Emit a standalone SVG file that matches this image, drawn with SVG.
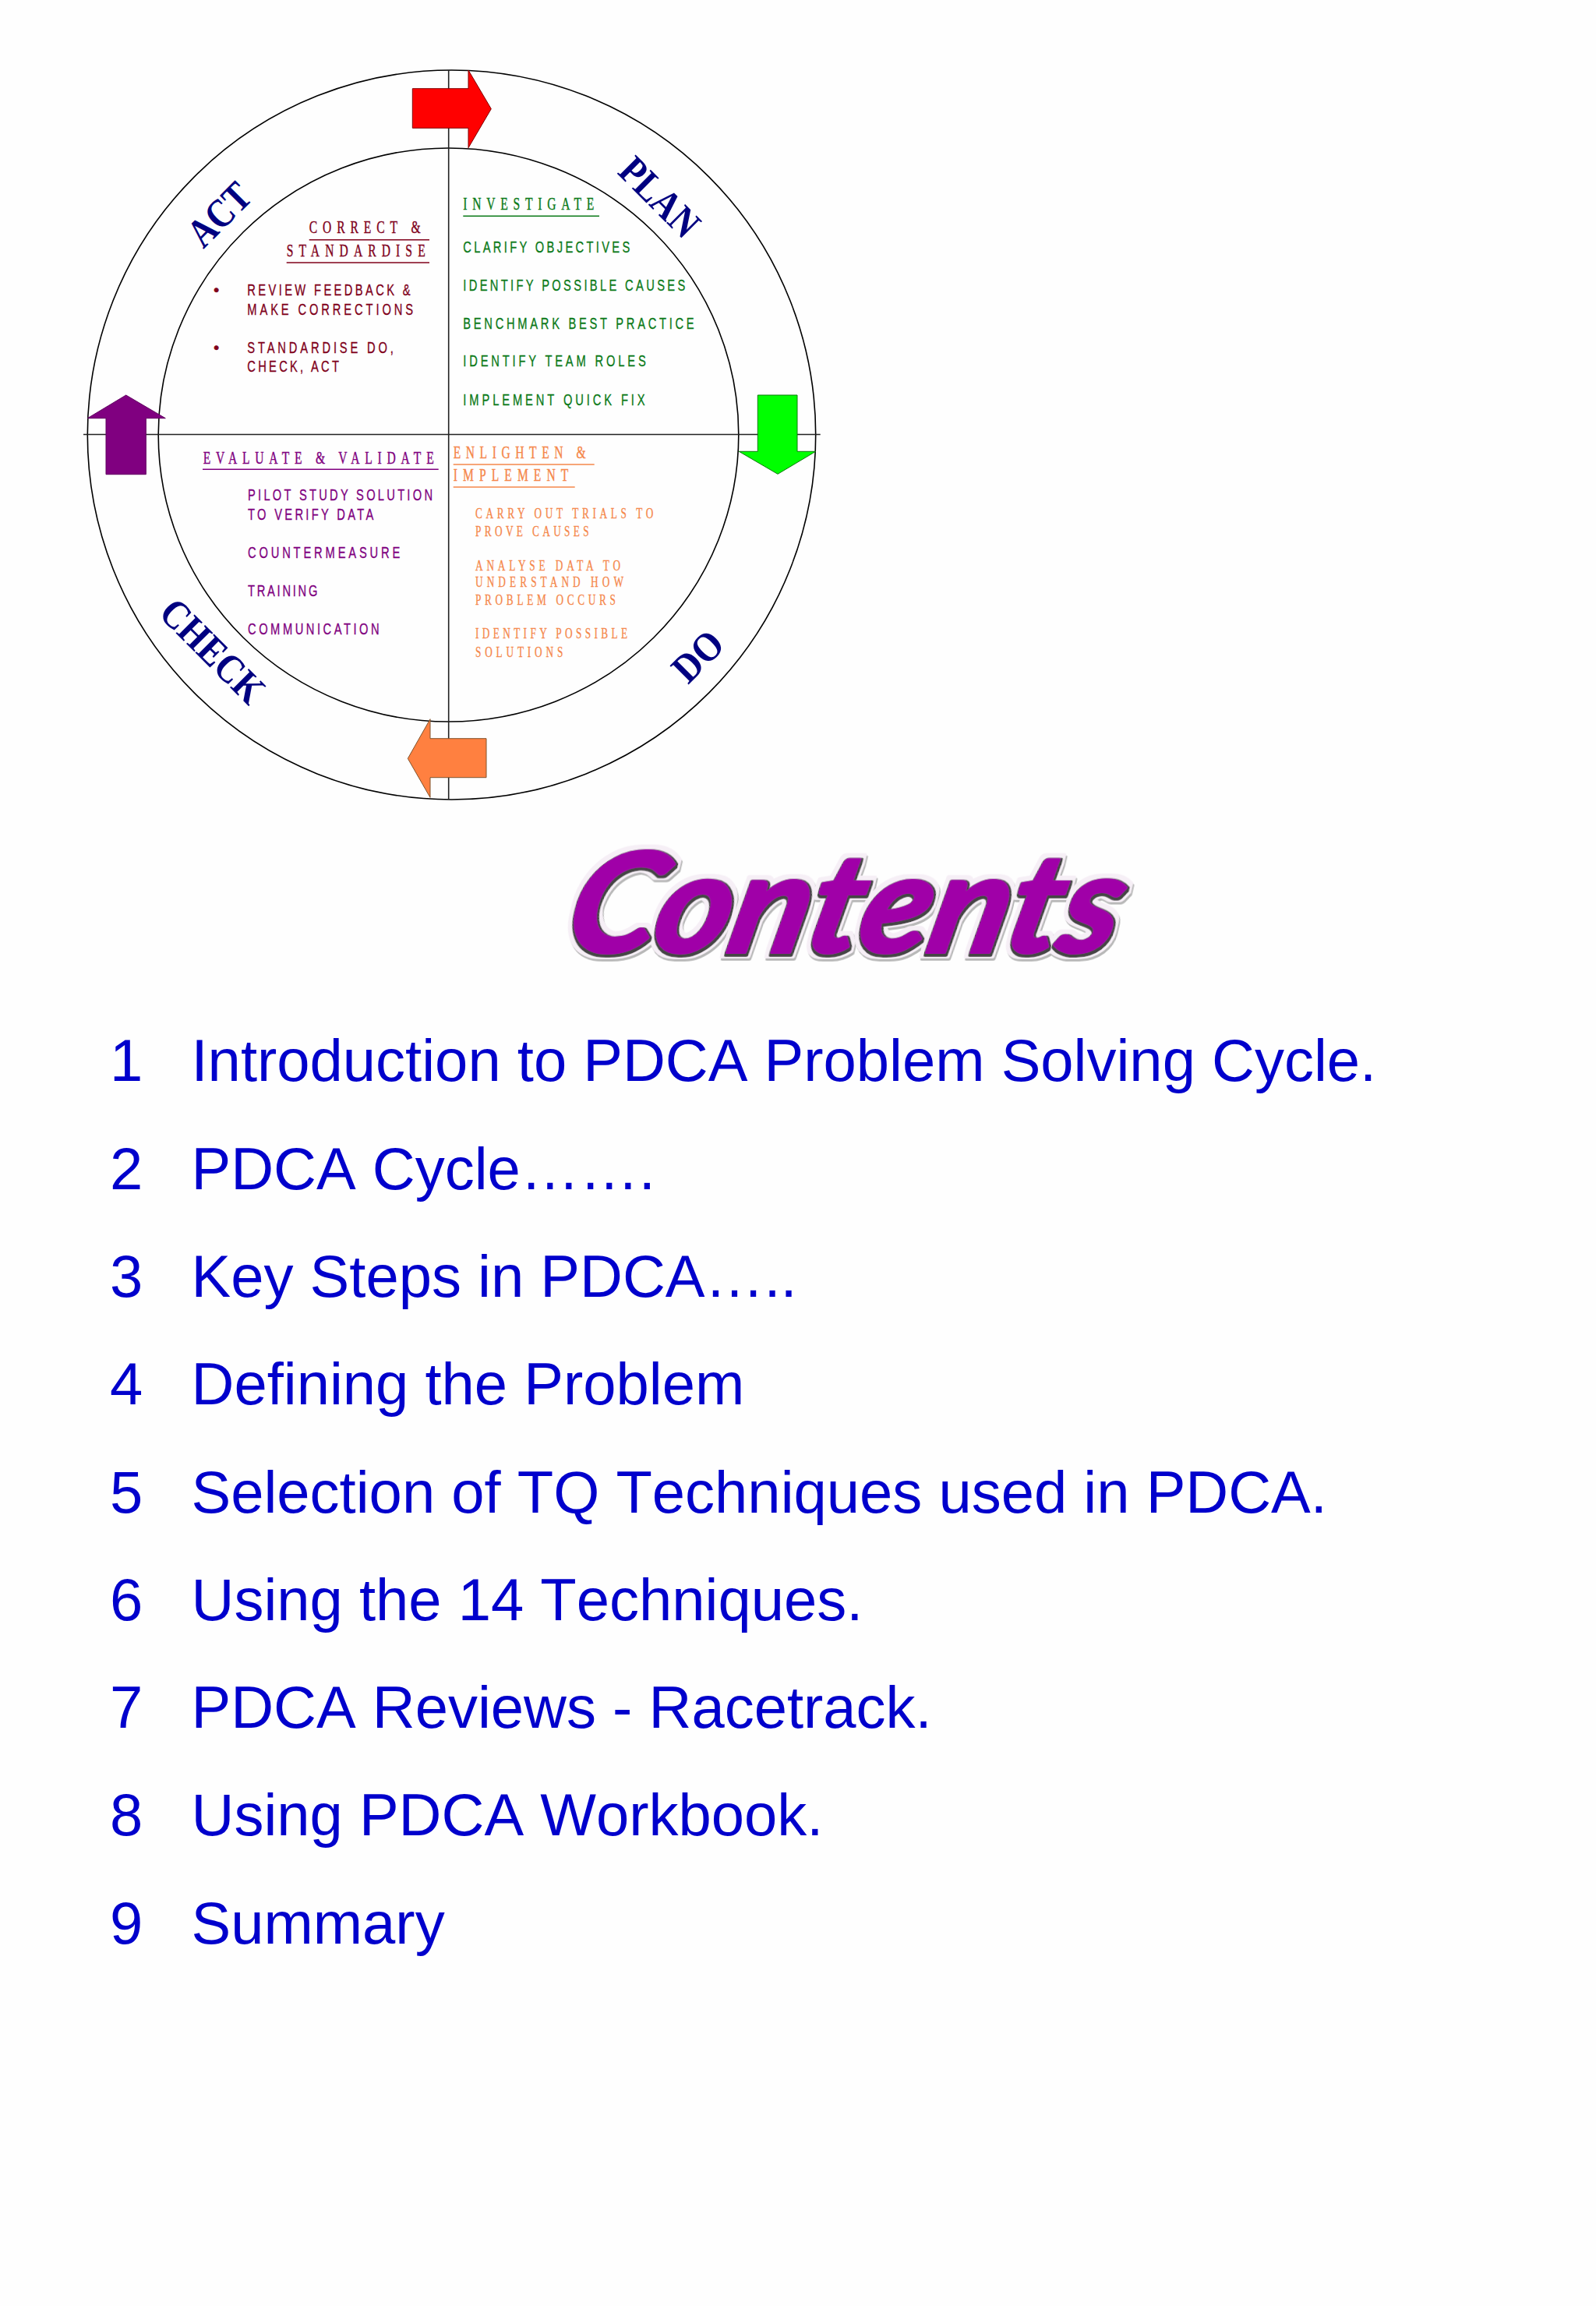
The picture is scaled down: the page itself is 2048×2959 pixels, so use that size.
<svg xmlns="http://www.w3.org/2000/svg" width="2048" height="2959" viewBox="0 0 2048 2959">
<defs>
<style>
.ring{fill:none;stroke:#000;stroke-width:1.6}
.axis{stroke:#222;stroke-width:1.6;fill:none}
.stage{font-family:"Liberation Serif",serif;font-weight:700;font-size:52px;fill:#000080}
.h{font-family:"Liberation Serif",serif;font-size:24px}
.b{font-family:"Liberation Sans",sans-serif;font-size:21px;stroke-width:.35px}
.o{font-family:"Liberation Serif",serif;font-size:19px}
.red{fill:#80001a;stroke:#80001a}.grn{fill:#0b7a18;stroke:#0b7a18}.pur{fill:#800080;stroke:#800080}.org{fill:#f5874a;stroke:#f5874a}
.h{stroke-width:.4px}.o{stroke-width:.3px}
.ul{stroke-width:1.6;fill:none}
.li{font-family:"Liberation Sans",sans-serif;font-size:76px;fill:#0000cc;font-kerning:none}
</style>
<filter id="halo" x="-5%" y="-10%" width="110%" height="125%">
<feMorphology in="SourceAlpha" operator="dilate" radius="6" result="d"/>
<feOffset in="d" dx="2" dy="3" result="s"/>
<feFlood flood-color="#b8b8b8"/><feComposite in2="s" operator="in" result="gray"/>
<feMorphology in="SourceAlpha" operator="dilate" radius="2" result="d2"/>
<feOffset in="d2" dx="1" dy="2" result="s2"/>
<feFlood flood-color="#444"/><feComposite in2="s2" operator="in" result="dark"/>
<feFlood flood-color="#f6eff6"/><feComposite in2="d" operator="in" result="white"/>
<feMerge><feMergeNode in="gray"/><feMergeNode in="white"/><feMergeNode in="dark"/><feMergeNode in="SourceGraphic"/></feMerge>
</filter>
</defs>
<rect width="2048" height="2959" fill="#fefefe"/>
<g id="connectors">
<ellipse class="ring" cx="579.5" cy="558" rx="467.2" ry="468"/>
<ellipse class="ring" cx="575.5" cy="558" rx="372.3" ry="368"/>
<path class="axis" d="M575.7 90V1026M107 557.5H1052.7"/>
</g>
<g id="arrow-plan"><path d="M529.3 113.7H601V90L630.3 139.7L601 189.7V164.3H529.3Z" fill="#ff0000" stroke="#800000" stroke-width="1"/></g>
<g id="arrow-do"><path d="M972.3 507H1023V579.3H1046.7L998 608.3L948.3 579.3H972.3Z" fill="#00ff00" stroke="#0a7a0a" stroke-width="1"/></g>
<g id="arrow-check"><path d="M624 947.7H552V922.7L523.3 973.3L552 1023.3V997.7H624Z" fill="#ff8040" stroke="#80522a" stroke-width="1"/></g>
<g id="arrow-act"><path d="M136 608.7V536.7H112.3L161.7 507L212.3 536.7H187.3V608.7Z" fill="#800080" stroke="#600060" stroke-width="1"/></g>

<g id="stage-labels">
<text class="stage" transform="translate(791 222) rotate(45)" textLength="122" lengthAdjust="spacingAndGlyphs">PLAN</text>
<text class="stage" transform="translate(883 879) rotate(-45)" textLength="70" lengthAdjust="spacingAndGlyphs">DO</text>
<text class="stage" transform="translate(202 789) rotate(45)" textLength="166" lengthAdjust="spacingAndGlyphs">CHECK</text>
<text class="stage" transform="translate(261 320) rotate(-45)" textLength="92" lengthAdjust="spacingAndGlyphs">ACT</text>
</g>

<g id="quadrant-act">
<text class="h red" transform="translate(396.7 299) scale(.65 1)" textLength="220">CORRECT &amp;</text>
<path class="ul" stroke="#80001a" d="M396.7 307.7H551"/>
<text class="h red" transform="translate(367.7 329) scale(.65 1)" textLength="273.8">STANDARDISE</text>
<path class="ul" stroke="#80001a" d="M367.7 337H551"/>
<text class="b red" x="274" y="379">•</text>
<text class="b red" transform="translate(317.3 379.3) scale(.7 1)" textLength="299.1">REVIEW FEEDBACK &amp;</text>
<text class="b red" transform="translate(317.3 403.7) scale(.7 1)" textLength="303.9">MAKE CORRECTIONS</text>
<text class="b red" x="274" y="452.5">•</text>
<text class="b red" transform="translate(317.3 452.7) scale(.7 1)" textLength="268.1">STANDARDISE DO,</text>
<text class="b red" transform="translate(317.3 477) scale(.7 1)" textLength="168.1">CHECK, ACT</text>
</g>

<g id="quadrant-plan">
<text class="h grn" transform="translate(594.3 269.3) scale(.65 1)" textLength="258.5">INVESTIGATE</text>
<path class="ul" stroke="#0b7a18" d="M594.3 277.3H769"/>
<text class="b grn" transform="translate(594.3 324.3) scale(.7 1)" textLength="305.7">CLARIFY OBJECTIVES</text>
<text class="b grn" transform="translate(594.3 373) scale(.7 1)" textLength="407.1">IDENTIFY POSSIBLE CAUSES</text>
<text class="b grn" transform="translate(594.3 421.7) scale(.7 1)" textLength="423.4">BENCHMARK BEST PRACTICE</text>
<text class="b grn" transform="translate(594.3 470.3) scale(.7 1)" textLength="334.9">IDENTIFY TEAM ROLES</text>
<text class="b grn" transform="translate(594.3 519.7) scale(.7 1)" textLength="333.4">IMPLEMENT QUICK FIX</text>
</g>

<g id="quadrant-check">
<text class="h pur" transform="translate(260.7 595) scale(.65 1)" textLength="455.4">EVALUATE &amp; VALIDATE</text>
<path class="ul" stroke="#800080" d="M260 602.3H562.7"/>
<text class="b pur" transform="translate(318 642.3) scale(.7 1)" textLength="338.6">PILOT STUDY SOLUTION</text>
<text class="b pur" transform="translate(318 667) scale(.7 1)" textLength="230.4">TO VERIFY DATA</text>
<text class="b pur" transform="translate(318 715.7) scale(.7 1)" textLength="279">COUNTERMEASURE</text>
<text class="b pur" transform="translate(318 765) scale(.7 1)" textLength="127.6">TRAINING</text>
<text class="b pur" transform="translate(318 813.7) scale(.7 1)" textLength="241">COMMUNICATION</text>
</g>

<g id="quadrant-do">
<text class="h org" transform="translate(581.7 588.3) scale(.65 1)" textLength="261.5">ENLIGHTEN &amp;</text>
<path class="ul" stroke="#f5874a" d="M581.7 596H762.7"/>
<text class="h org" transform="translate(581.7 617) scale(.65 1)" textLength="227.1">IMPLEMENT</text>
<path class="ul" stroke="#f5874a" d="M581.7 625H737.7"/>
<text class="o org" transform="translate(610 665.3) scale(.7 1)" textLength="326.1">CARRY OUT TRIALS TO</text>
<text class="o org" transform="translate(610 687.7) scale(.7 1)" textLength="208.1">PROVE CAUSES</text>
<text class="o org" transform="translate(610 731.7) scale(.7 1)" textLength="265.7">ANALYSE DATA TO</text>
<text class="o org" transform="translate(610 753.3) scale(.7 1)" textLength="271.4">UNDERSTAND HOW</text>
<text class="o org" transform="translate(610 775.7) scale(.7 1)" textLength="257.1">PROBLEM OCCURS</text>
<text class="o org" transform="translate(610 819.3) scale(.7 1)" textLength="278.6">IDENTIFY POSSIBLE</text>
<text class="o org" transform="translate(610 842.7) scale(.7 1)" textLength="160.4">SOLUTIONS</text>
</g>

<g id="title">
<text transform="translate(720 1222) skewX(-13)" filter="url(#halo)" font-family="Lato,'Open Sans',sans-serif" font-weight="700" font-style="italic" font-size="178" fill="#a000a8" stroke="#a000a8" stroke-width="4" stroke-linejoin="round" textLength="708" lengthAdjust="spacingAndGlyphs">Contents</text>
</g>

<g id="contents-list">
<text class="li" x="141" y="1387">1</text><text class="li" x="245.5" y="1387">Introduction to PDCA Problem Solving Cycle.</text>
<text class="li" x="141" y="1525.5">2</text><text class="li" x="245.5" y="1525.5">PDCA Cycle…….</text>
<text class="li" x="141" y="1664">3</text><text class="li" x="245.5" y="1664">Key Steps in PDCA…..</text>
<text class="li" x="141" y="1802">4</text><text class="li" x="245.5" y="1802">Defining the Problem</text>
<text class="li" x="141" y="1940.5">5</text><text class="li" x="245.5" y="1940.5">Selection of TQ Techniques used in PDCA.</text>
<text class="li" x="141" y="2078.5">6</text><text class="li" x="245.5" y="2078.5">Using the 14 Techniques.</text>
<text class="li" x="141" y="2217">7</text><text class="li" x="245.5" y="2217">PDCA Reviews - Racetrack.</text>
<text class="li" x="141" y="2355">8</text><text class="li" x="245.5" y="2355">Using PDCA Workbook.</text>
<text class="li" x="141" y="2493.5">9</text><text class="li" x="245.5" y="2493.5">Summary</text>
</g>
</svg>
